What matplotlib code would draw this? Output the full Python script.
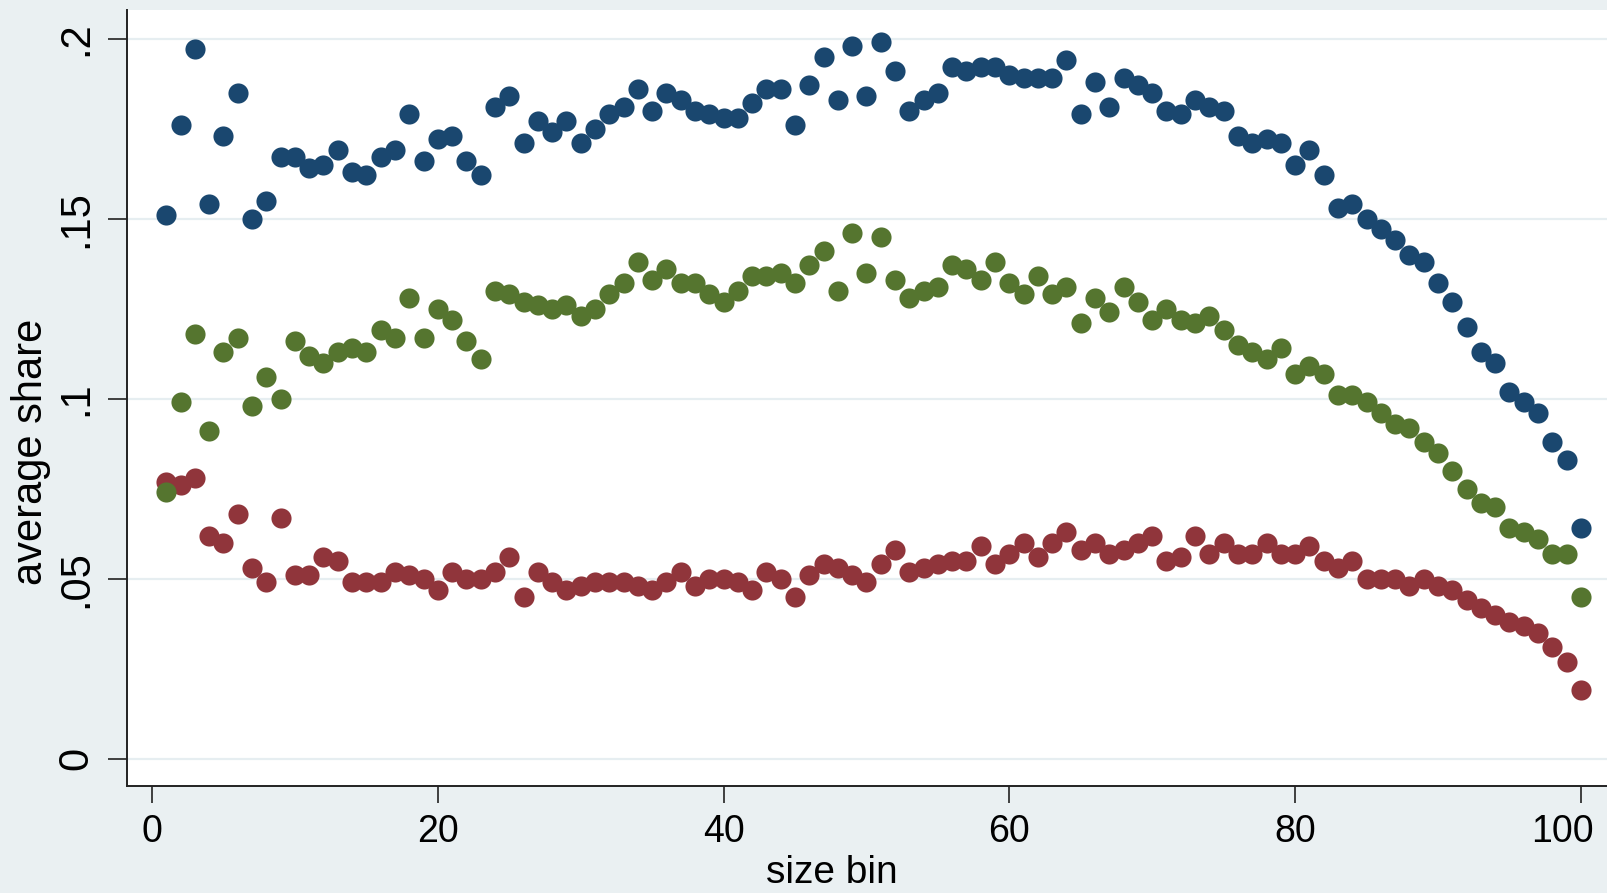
import numpy as np
from matplotlib import pyplot as plt
from matplotlib import transforms

# average share per size bin, three groups
size_bin = np.arange(1, 101)

share_top = [0.151, 0.176, 0.197, 0.154, 0.173, 0.185, 0.150, 0.155, 0.167, 0.167,
             0.164, 0.165, 0.169, 0.163, 0.162, 0.167, 0.169, 0.179, 0.166, 0.172,
             0.173, 0.166, 0.162, 0.181, 0.184, 0.171, 0.177, 0.174, 0.177, 0.171,
             0.175, 0.179, 0.181, 0.186, 0.180, 0.185, 0.183, 0.180, 0.179, 0.178,
             0.178, 0.182, 0.186, 0.186, 0.176, 0.187, 0.195, 0.183, 0.198, 0.184,
             0.199, 0.191, 0.180, 0.183, 0.185, 0.192, 0.191, 0.192, 0.192, 0.190,
             0.189, 0.189, 0.189, 0.194, 0.179, 0.188, 0.181, 0.189, 0.187, 0.185,
             0.180, 0.179, 0.183, 0.181, 0.180, 0.173, 0.171, 0.172, 0.171, 0.165,
             0.169, 0.162, 0.153, 0.154, 0.150, 0.147, 0.144, 0.140, 0.138, 0.132,
             0.127, 0.120, 0.113, 0.110, 0.102, 0.099, 0.096, 0.088, 0.083, 0.064]

share_mid = [0.074, 0.099, 0.118, 0.091, 0.113, 0.117, 0.098, 0.106, 0.100, 0.116,
             0.112, 0.110, 0.113, 0.114, 0.113, 0.119, 0.117, 0.128, 0.117, 0.125,
             0.122, 0.116, 0.111, 0.130, 0.129, 0.127, 0.126, 0.125, 0.126, 0.123,
             0.125, 0.129, 0.132, 0.138, 0.133, 0.136, 0.132, 0.132, 0.129, 0.127,
             0.130, 0.134, 0.134, 0.135, 0.132, 0.137, 0.141, 0.130, 0.146, 0.135,
             0.145, 0.133, 0.128, 0.130, 0.131, 0.137, 0.136, 0.133, 0.138, 0.132,
             0.129, 0.134, 0.129, 0.131, 0.121, 0.128, 0.124, 0.131, 0.127, 0.122,
             0.125, 0.122, 0.121, 0.123, 0.119, 0.115, 0.113, 0.111, 0.114, 0.107,
             0.109, 0.107, 0.101, 0.101, 0.099, 0.096, 0.093, 0.092, 0.088, 0.085,
             0.080, 0.075, 0.071, 0.070, 0.064, 0.063, 0.061, 0.057, 0.057, 0.045]

share_low = [0.077, 0.076, 0.078, 0.062, 0.060, 0.068, 0.053, 0.049, 0.067, 0.051,
             0.051, 0.056, 0.055, 0.049, 0.049, 0.049, 0.052, 0.051, 0.050, 0.047,
             0.052, 0.050, 0.050, 0.052, 0.056, 0.045, 0.052, 0.049, 0.047, 0.048,
             0.049, 0.049, 0.049, 0.048, 0.047, 0.049, 0.052, 0.048, 0.050, 0.050,
             0.049, 0.047, 0.052, 0.050, 0.045, 0.051, 0.054, 0.053, 0.051, 0.049,
             0.054, 0.058, 0.052, 0.053, 0.054, 0.055, 0.055, 0.059, 0.054, 0.057,
             0.060, 0.056, 0.060, 0.063, 0.058, 0.060, 0.057, 0.058, 0.060, 0.062,
             0.055, 0.056, 0.062, 0.057, 0.060, 0.057, 0.057, 0.060, 0.057, 0.057,
             0.059, 0.055, 0.053, 0.055, 0.050, 0.050, 0.050, 0.048, 0.050, 0.048,
             0.047, 0.044, 0.042, 0.040, 0.038, 0.037, 0.035, 0.031, 0.027, 0.019]

y_ticks = [0, 0.05, 0.1, 0.15, 0.2]
y_ticklabels = ["0", ".05", ".1", ".15", ".2"]
x_ticks = [0, 20, 40, 60, 80, 100]

plt.rcParams['font.family'] = ['Liberation Sans', 'DejaVu Sans']

fig = plt.figure(figsize=(16.08, 8.93), dpi=100)
fig.patch.set_facecolor('#EAF0F2')
ax = fig.add_axes([0.079, 0.12, 0.921, 0.869])
ax.set_facecolor('white')

for y in y_ticks:
    ax.axhline(y, color='#E6EEF1', lw=1.6, zorder=0)

ax.scatter(size_bin, share_top, s=210, color='#1A476F', linewidths=0, zorder=2)
ax.scatter(size_bin, share_low, s=210, color='#90353B', linewidths=0, zorder=2)
ax.scatter(size_bin, share_mid, s=210, color='#55752F', linewidths=0, zorder=3)

ax.set_xlim(-1.75, 101.9)
ax.set_ylim(-0.0075, 0.208)
ax.set_xticks(x_ticks)
ax.set_yticks(y_ticks)
ax.set_yticklabels(y_ticklabels, rotation=90, va='center', fontsize=30)

ax.spines['top'].set_visible(False)
ax.spines['right'].set_visible(False)
for side in ['left', 'bottom']:
    ax.spines[side].set_linewidth(1.4)
    ax.spines[side].set_color('#222222')

ax.tick_params(axis='both', width=1.2, color='#222222')
ax.tick_params(axis='y', length=14, pad=8)
ax.tick_params(axis='x', length=12, pad=8, labelsize=27)

# the last x label is pushed left so it stays inside the figure
lab = ax.get_xticklabels()[-1]
lab.set_ha('right')
lab.set_transform(lab.get_transform() + transforms.ScaledTranslation(0.13, 0, fig.dpi_scale_trans))

ax.set_xlabel("size bin", fontsize=28, labelpad=4)
ax.xaxis.label.set_x(0.476)
ax.set_ylabel("average share", fontsize=30, va='center', ha='center')
ax.yaxis.set_label_coords(-0.065, 0.431)

fig.savefig("out.png", dpi=100, facecolor=fig.get_facecolor())
